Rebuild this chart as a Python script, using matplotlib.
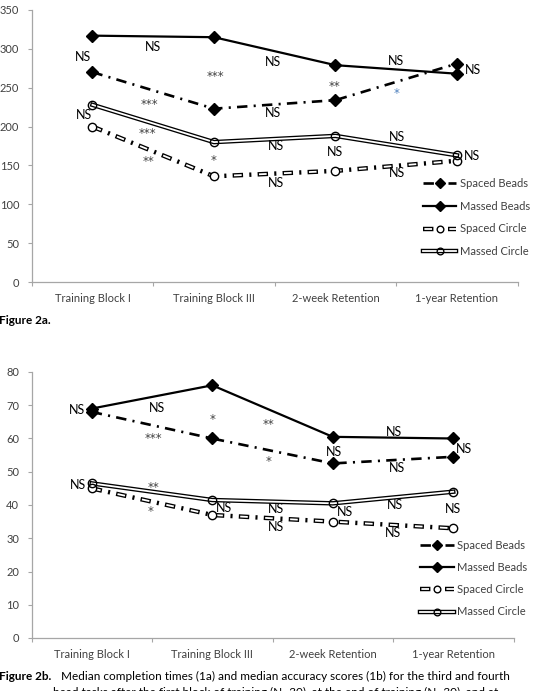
import matplotlib
matplotlib.use("Agg")
import matplotlib.pyplot as plt
from matplotlib.legend_handler import HandlerTuple
from matplotlib.ticker import FixedLocator

plt.rcParams["font.family"] = ["Lato", "DejaVu Sans"]
plt.rcParams["lines.scale_dashes"] = False

W, H = 534, 691

categories = ["Training Block I", "Training Block III", "2-week Retention", "1-year Retention"]
series_names = ["Spaced Beads", "Massed Beads", "Spaced Circle", "Massed Circle"]

# Figure 2a: median completion times
times_spaced_beads = [270, 223, 234, 281]
times_massed_beads = [317, 315, 279, 268]
times_spaced_circle = [200, 136, 143, 156]
times_massed_circle = [228, 180, 188, 163]

# Figure 2b: median accuracy scores
acc_spaced_beads = [68, 60, 52.5, 54.5]
acc_massed_beads = [69, 76, 60.5, 60]
acc_spaced_circle = [45, 37, 35, 33]
acc_massed_circle = [46.5, 41.5, 40.5, 44]

# significance labels (text, category position, value)
labels_a = [
    ("NS", -0.08, 290), ("NS", 0.50, 303), ("NS", 1.49, 283), ("NS", 2.50, 284),
    ("NS", 3.13, 273), ("***", 1.01, 269), ("***", 0.47, 233), ("**", 1.99, 256),
    ("*", 2.50, 247), ("NS", 1.49, 217), ("NS", -0.07, 215), ("***", 0.45, 195),
    ("NS", 1.51, 175), ("NS", 2.51, 186), ("NS", 2.00, 167), ("NS", 3.12, 162),
    ("**", 0.46, 160), ("*", 1.00, 161), ("NS", 2.51, 140), ("NS", 1.51, 128),
]
labels_b = [
    ("NS", -0.12, 68.5), ("NS", 0.54, 69.2), ("*", 1.00, 66.9), ("**", 1.47, 65.2),
    ("***", 0.51, 61), ("*", 1.47, 54), ("NS", 2.51, 62.1), ("NS", 2.01, 56),
    ("NS", 3.09, 56.9), ("NS", 2.53, 51), ("NS", -0.11, 46), ("**", 0.51, 46.2),
    ("*", 0.49, 39), ("NS", 1.10, 39.2), ("NS", 1.53, 38.7), ("NS", 2.10, 37.9),
    ("NS", 2.52, 40), ("NS", 3.00, 38.7), ("NS", 1.53, 33.5), ("NS", 2.50, 31.7),
]
blue_marks_a = [8]  # index of the blue asterisk in panel a

AXIS_GREY = "#a6a6a6"
TEXT_GREY = "#404040"
DASHDOT = (0, (7.5, 4.5, 1.5, 4.5))
DASHDOT_INNER = (17, (5.5, 12.5))


def draw_panel(ax, values, ylim, ystep, labels, blue=()):
    x = list(range(len(categories)))
    sb, mb, sc, mc = values
    handles = []

    h1 = ax.plot(x, sb, color="black", lw=1.9, linestyle=DASHDOT, zorder=3)[0]
    m1 = ax.plot(x, sb, linestyle="none", marker="D", ms=6, color="black", zorder=5)[0]
    handles.append((h1, m1))

    h2 = ax.plot(x, mb, color="black", lw=1.6, zorder=3)[0]
    m2 = ax.plot(x, mb, linestyle="none", marker="D", ms=6, color="black", zorder=5)[0]
    handles.append((h2, m2))

    o3 = ax.plot(x, sc, color="black", lw=3.2, linestyle=DASHDOT, zorder=3)[0]
    i3 = ax.plot(x, sc, color="white", lw=1.3, linestyle=DASHDOT_INNER, zorder=3)[0]
    m3 = ax.plot(x, sc, linestyle="none", marker="o", ms=6, mfc="white", mec="black",
                 mew=1.0, zorder=5)[0]
    handles.append((o3, i3, m3))

    o4 = ax.plot(x, mc, color="black", lw=3.2, zorder=3)[0]
    i4 = ax.plot(x, mc, color="white", lw=1.3, zorder=3)[0]
    m4 = ax.plot(x, mc, linestyle="none", marker="o", ms=6, mfc="none", mec="black",
                 mew=1.0, zorder=5)[0]
    handles.append((o4, i4, m4))

    for i, (txt, lx, ly) in enumerate(labels):
        if txt.startswith("*"):
            color = "#4f81bd" if i in blue else TEXT_GREY
            ax.annotate(txt, (lx, ly), xytext=(0, -2.5), textcoords="offset points",
                        ha="center", va="center", fontsize=8.5, color=color,
                        family="DejaVu Sans", zorder=6)
        else:
            ax.annotate(txt, (lx, ly), ha="center", va="center", fontsize=9,
                        color="black", zorder=6)

    ax.set_xlim(-0.5, len(categories) - 0.5)
    ax.set_ylim(*ylim)
    ax.set_yticks(range(ylim[0], ylim[1] + 1, ystep))
    ax.set_xticks(x)
    ax.set_xticklabels(categories)
    ax.xaxis.set_minor_locator(FixedLocator([i - 0.5 for i in range(len(categories) + 1)]))
    ax.tick_params(axis="x", which="major", length=0, pad=8, labelsize=8, labelcolor=TEXT_GREY)
    ax.tick_params(axis="x", which="minor", length=3, width=0.8, color=AXIS_GREY)
    ax.tick_params(axis="y", length=3, width=0.8, color=AXIS_GREY, pad=6, labelsize=8,
                   labelcolor=TEXT_GREY)
    for side in ("top", "right"):
        ax.spines[side].set_visible(False)
    for side in ("left", "bottom"):
        ax.spines[side].set_color(AXIS_GREY)
        ax.spines[side].set_linewidth(0.9)
    return handles


def add_legend(ax, handles, anchor, spacing):
    ax.legend(handles, series_names, loc="upper left", bbox_to_anchor=anchor,
              frameon=False, fontsize=8, handlelength=3.0, handletextpad=0.3,
              labelspacing=spacing, borderpad=0, borderaxespad=0, markerscale=0.8,
              labelcolor=TEXT_GREY, handler_map={tuple: HandlerTuple(ndivide=1)})


fig = plt.figure(figsize=(W / 100, H / 100), dpi=100)
fig.patch.set_facecolor("white")

ax_a = fig.add_axes([31.7 / W, 1 - 282 / H, 486 / W, 272 / H])
ha = draw_panel(ax_a, [times_spaced_beads, times_massed_beads, times_spaced_circle,
                       times_massed_circle], (0, 350), 50, labels_a, blue_marks_a)
add_legend(ax_a, ha, (0.805, 0.382), 1.05)

ax_b = fig.add_axes([31.5 / W, 1 - 638 / H, 482 / W, 266 / H])
hb = draw_panel(ax_b, [acc_spaced_beads, acc_massed_beads, acc_spaced_circle,
                       acc_massed_circle], (0, 80), 10, labels_b)
add_legend(ax_b, hb, (0.807, 0.368), 1.0)

fig.text(-1 / W, 1 - 320 / H, "Figure 2a.", fontsize=8.5, fontweight="bold",
         ha="left", va="center")
fig.text(-1 / W, 1 - 676.5 / H, "Figure 2b.", fontsize=8.5, fontweight="bold",
         ha="left", va="center")
fig.text(61 / W, 1 - 676.5 / H,
         "Median completion times (1a) and median accuracy scores (1b) for the third and fourth",
         fontsize=8.5, ha="left", va="center")
fig.text(53 / W, 1 - 692 / H,
         "bead tasks after the first block of training (N=30), at the end of training (N=30), and at",
         fontsize=8.5, ha="left", va="center")

fig.savefig("out.png", dpi=100, facecolor="white")
